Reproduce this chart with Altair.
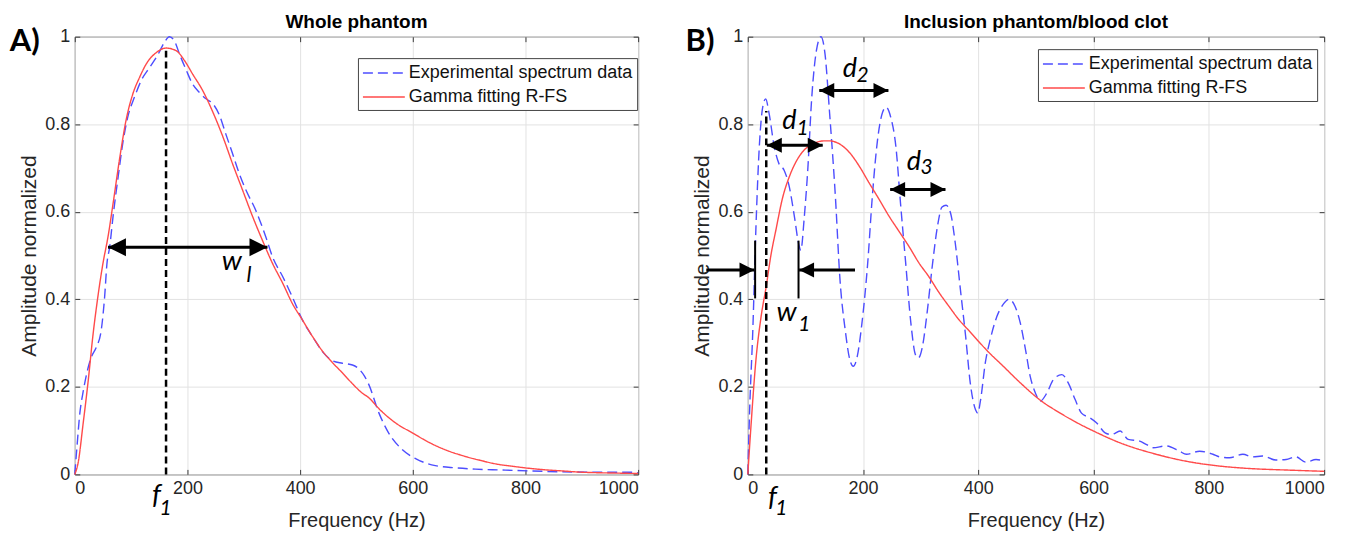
import altair as alt
import pandas as pd

SERIES = ["Experimental spectrum data", "Gamma fitting R-FS"]
X_TICKS = [0, 200, 400, 600, 800, 1000]
Y_TICKS = [0, 0.2, 0.4, 0.6, 0.8, 1.0]

# ---------------- Panel A: Whole phantom ----------------
a_exp_hz = [0, 4, 9, 15, 22, 30, 38, 47, 53, 57, 62, 68, 77, 86, 94, 106, 118, 133, 148, 159,
            168, 177, 186, 198, 209, 221, 233, 245, 257, 268, 280, 292, 304, 321, 339, 351, 369,
            386, 404, 422, 440, 457, 475, 493, 505, 514, 522, 540, 557, 581, 605, 640, 676, 711,
            758, 805, 864, 923, 982, 1000]
a_exp_amp = [0, 0.065, 0.14, 0.19, 0.235, 0.27, 0.29, 0.33, 0.406, 0.48, 0.52, 0.59, 0.68, 0.763,
             0.816, 0.862, 0.9, 0.93, 0.96, 0.987, 1.0, 0.99, 0.96, 0.923, 0.892, 0.873, 0.858,
             0.847, 0.82, 0.778, 0.733, 0.687, 0.649, 0.604, 0.543, 0.497, 0.452, 0.406, 0.353,
             0.315, 0.28, 0.26, 0.254, 0.25, 0.24, 0.225, 0.205, 0.14, 0.095, 0.057, 0.036, 0.02,
             0.015, 0.012, 0.010, 0.008, 0.006, 0.005, 0.005, 0.004]
a_fit_hz = [0, 6, 15, 24, 32, 41, 50, 59, 68, 80, 91, 103, 115, 127, 145, 162, 180, 195, 209, 227,
            245, 263, 280, 298, 316, 333, 351, 369, 386, 404, 422, 440, 457, 475, 493, 510, 522,
            540, 569, 599, 629, 660, 688, 720, 747, 780, 806, 840, 865, 900, 924, 960, 1000]
a_fit_amp = [0, 0.027, 0.118, 0.216, 0.315, 0.406, 0.482, 0.543, 0.619, 0.725, 0.809, 0.869, 0.907,
             0.938, 0.964, 0.974, 0.968, 0.945, 0.915, 0.877, 0.828, 0.771, 0.71, 0.649, 0.588,
             0.535, 0.482, 0.437, 0.391, 0.353, 0.315, 0.281, 0.256, 0.232, 0.207, 0.186, 0.175,
             0.15, 0.118, 0.095, 0.073, 0.055, 0.043, 0.032, 0.024, 0.018, 0.014, 0.010, 0.008,
             0.005, 0.004, 0.003, 0.002]

# annotations A
a_f1 = [{"x": 162, "y": 0, "y2": 0.975}]
a_shafts = [{"x": 59, "x2": 342, "y": 0.519}]
a_heads = [{"x": 59, "y": 0.519, "dir": "L"}, {"x": 342, "y": 0.519, "dir": "R"}]
a_texts = [
    {"x": 279, "y": 0.486, "t": "w", "s": 28},
    {"x": 309, "y": 0.455, "t": "l", "s": 22},
    {"x": 145, "y": -0.05, "t": "f", "s": 28},
    {"x": 161, "y": -0.08, "t": "1", "s": 21},
]
a_tag = [{"x": -89, "y": 0.9875, "t": "A)"}]

# ---------------- Panel B: Inclusion phantom/blood clot ----------------
b_exp_hz = [0, 3, 8.7, 14, 20, 26, 31, 37, 46, 54, 63, 72, 81, 88, 92, 98, 104, 111, 119, 127,
            134, 142, 152, 160, 169, 177, 183, 190, 198, 208, 216, 225, 234, 240, 248, 257, 265,
            274, 283, 291, 296, 303, 311, 320, 329, 337, 344, 352, 360, 369, 378, 386, 395, 399,
            404, 412, 421, 432, 444, 453, 464, 473, 482, 490, 499, 507, 519, 530, 545, 556, 568,
            579, 594, 605, 620, 631, 646, 660, 680, 692, 703, 726, 749, 761, 784, 807, 819, 836,
            859, 876, 893, 916, 934, 951, 968, 986, 1000]
b_exp_amp = [0, 0.14, 0.33, 0.56, 0.75, 0.84, 0.858, 0.824, 0.748, 0.71, 0.695, 0.657, 0.588, 0.528,
             0.512, 0.588, 0.695, 0.862, 0.968, 1.0, 0.96, 0.824, 0.634, 0.444, 0.33, 0.262, 0.247,
             0.27, 0.345, 0.482, 0.634, 0.763, 0.828, 0.839, 0.816, 0.748, 0.619, 0.482, 0.345,
             0.273, 0.266, 0.292, 0.368, 0.475, 0.566, 0.611, 0.615, 0.596, 0.528, 0.421, 0.315,
             0.209, 0.148, 0.14, 0.171, 0.254, 0.31, 0.36, 0.39, 0.40, 0.383, 0.345, 0.284, 0.224,
             0.186, 0.167, 0.186, 0.216, 0.228, 0.209, 0.171, 0.14, 0.129, 0.118, 0.095, 0.091,
             0.099, 0.08, 0.076, 0.068, 0.061, 0.065, 0.053, 0.046, 0.053, 0.046, 0.04, 0.038,
             0.046, 0.04, 0.042, 0.033, 0.034, 0.04, 0.028, 0.034, 0.03]
b_fit_hz = [0, 6, 14, 23, 32, 40, 49, 60, 72, 84, 95, 107, 118, 133, 141, 159, 176, 193, 210, 228,
            245, 262, 280, 297, 314, 332, 349, 366, 384, 401, 418, 441, 473, 507, 542, 577, 600,
            646, 703, 761, 819, 876, 934, 1000]
b_fit_amp = [0, 0.12, 0.26, 0.36, 0.43, 0.50, 0.56, 0.63, 0.68, 0.715, 0.737, 0.751, 0.758, 0.762,
             0.762, 0.755, 0.736, 0.705, 0.667, 0.628, 0.59, 0.556, 0.52, 0.483, 0.452, 0.415,
             0.384, 0.354, 0.328, 0.303, 0.279, 0.25, 0.209, 0.17, 0.14, 0.114, 0.099, 0.072,
             0.048, 0.03, 0.019, 0.013, 0.01, 0.007]

# annotations B
b_f1 = [{"x": 32, "y": 0, "y2": 0.83}]
b_bars = [{"x": 12.7, "y": 0.402, "y2": 0.534}, {"x": 88, "y": 0.402, "y2": 0.534}]
b_shafts = [
    {"x": 33, "x2": 130, "y": 0.752},
    {"x": 124, "x2": 244, "y": 0.877},
    {"x": 247, "x2": 343, "y": 0.651},
    {"x": -72, "x2": 11.5, "y": 0.467},
    {"x": 89, "x2": 186, "y": 0.467},
]
b_heads = [
    {"x": 33, "y": 0.752, "dir": "L"}, {"x": 130, "y": 0.752, "dir": "R"},
    {"x": 124, "y": 0.877, "dir": "L"}, {"x": 244, "y": 0.877, "dir": "R"},
    {"x": 247, "y": 0.651, "dir": "L"}, {"x": 343, "y": 0.651, "dir": "R"},
    {"x": 11.5, "y": 0.467, "dir": "R"}, {"x": 89, "y": 0.467, "dir": "L"},
]
b_texts = [
    {"x": 72, "y": 0.807, "t": "d", "s": 27}, {"x": 95, "y": 0.79, "t": "1", "s": 21},
    {"x": 177, "y": 0.926, "t": "d", "s": 27}, {"x": 199, "y": 0.911, "t": "2", "s": 21},
    {"x": 288, "y": 0.714, "t": "d", "s": 27}, {"x": 310, "y": 0.70, "t": "3", "s": 21},
    {"x": 67.5, "y": 0.368, "t": "w", "s": 28}, {"x": 98, "y": 0.342, "t": "1", "s": 21},
    {"x": 43, "y": -0.055, "t": "f", "s": 28}, {"x": 58, "y": -0.08, "t": "1", "s": 21},
]
b_tag = [{"x": -83, "y": 0.9875, "t": "B)"}]

BLUE = "#4d4dff"
RED = "#ff4a4a"
AXFONT = "Liberation Sans"
ANFONT = "Lato"
TICKC = "#3a3a3a"
PATH_R = "M0,0L-1,-0.5L-1,0.5Z"
PATH_L = "M0,0L1,-0.5L1,0.5Z"


def lines_df(eh, ea, fh, fa):
    rows = [{"hz": h, "amp": a, "series": SERIES[0]} for h, a in zip(eh, ea)]
    rows += [{"hz": h, "amp": a, "series": SERIES[1]} for h, a in zip(fh, fa)]
    return pd.DataFrame(rows)


def make_legend(legx, legy):
    return alt.Legend(title=None, orient="none", legendX=legx, legendY=legy,
                      symbolType="M-2.1,0L2.1,0", symbolSize=400,
                      symbolStrokeWidth=1.5, symbolOffset=11,
                      labelFont=AXFONT, labelFontSize=18, labelColor="#111",
                      labelOffset=14, fillColor="white", strokeColor="#444",
                      padding=4, rowPadding=4, labelLimit=400)


def panel(title, w, eh, ea, fh, fa, f1, shafts, heads, texts, tag, bars, head_size, legx, legy):
    xs = alt.Scale(domain=[0, 1000], nice=False)
    ys = alt.Scale(domain=[0, 1], nice=False)
    # main axes: pulled 5px inside the frame so their ticks point inward
    xax = alt.Axis(values=X_TICKS, format="d", title="Frequency (Hz)", offset=-5,
                   ticks=True, tickSize=5, tickColor=TICKC,
                   labelPadding=5, titlePadding=13, titleFontSize=20)
    yax = alt.Axis(values=Y_TICKS, format="~g", title="Amplitude normalized", offset=-5,
                   ticks=True, tickSize=5, tickColor=TICKC,
                   labelPadding=5, titlePadding=5, titleFontSize=21)
    # mirrored tick-only axes on top and right
    xtop = alt.Axis(values=X_TICKS, orient="top", offset=-5, ticks=True, tickSize=5,
                    tickColor=TICKC, labels=False, title=None, grid=False)
    yright = alt.Axis(values=Y_TICKS, orient="right", offset=-5, ticks=True, tickSize=5,
                      tickColor=TICKC, labels=False, title=None, grid=False)
    base = alt.Chart(lines_df(eh, ea, fh, fa))
    lines = base.mark_line(strokeWidth=1.4, interpolate="monotone").encode(
        x=alt.X("hz:Q", scale=xs, axis=xax),
        y=alt.Y("amp:Q", scale=ys, axis=yax),
        color=alt.Color("series:N", scale=alt.Scale(domain=SERIES, range=[BLUE, RED]),
                        legend=make_legend(legx, legy)),
        strokeDash=alt.StrokeDash("series:N", scale=alt.Scale(domain=SERIES, range=[[10, 5], [1, 0]]),
                                  legend=make_legend(legx, legy)),
    )
    layers = [lines]
    layers.append(alt.Chart(pd.DataFrame(f1)).mark_rule(color="black", strokeWidth=2.5,
                                                         strokeDash=[7, 4]).encode(
        x=alt.X("x:Q", scale=xs, axis=xtop), y=alt.Y("y:Q", scale=ys, axis=yright), y2="y2:Q"))
    if bars:
        layers.append(alt.Chart(pd.DataFrame(bars)).mark_rule(color="black", strokeWidth=2).encode(
            x=alt.X("x:Q", scale=xs, axis=None), y=alt.Y("y:Q", scale=ys, axis=None), y2="y2:Q"))
    layers.append(alt.Chart(pd.DataFrame(shafts)).mark_rule(color="black", strokeWidth=3).encode(
        x=alt.X("x:Q", scale=xs, axis=None), x2="x2:Q", y=alt.Y("y:Q", scale=ys, axis=None)))
    layers.append(alt.Chart(pd.DataFrame(heads)).mark_point(filled=True, opacity=1, color="black",
                                                             strokeWidth=0).encode(
        x=alt.X("x:Q", scale=xs, axis=None), y=alt.Y("y:Q", scale=ys, axis=None),
        shape=alt.Shape("dir:N", scale=alt.Scale(domain=["L", "R"], range=[PATH_L, PATH_R]), legend=None),
        size=alt.value(head_size)))
    layers.append(alt.Chart(pd.DataFrame(texts)).mark_text(font=ANFONT, fontStyle="italic",
                                                            color="black", align="center",
                                                            baseline="middle").encode(
        x=alt.X("x:Q", scale=xs, axis=None), y=alt.Y("y:Q", scale=ys, axis=None), text="t:N",
        size=alt.Size("s:Q", scale=None, legend=None)))
    layers.append(alt.Chart(pd.DataFrame(tag)).mark_text(font=ANFONT, fontWeight="bold", fontSize=31,
                                                          color="black", align="center",
                                                          baseline="middle").encode(
        x=alt.X("x:Q", scale=xs, axis=None), y=alt.Y("y:Q", scale=ys, axis=None), text="t:N"))
    return alt.layer(*layers).properties(
        width=w, height=439,
        title=alt.TitleParams(title, font=AXFONT, fontSize=19, fontWeight="bold", color="black",
                              offset=-6, frame="group"),
    ).resolve_scale(size="independent").resolve_axis(x="independent", y="independent")


left = panel("Whole phantom", 565, a_exp_hz, a_exp_amp, a_fit_hz, a_fit_amp, a_f1, a_shafts,
             a_heads, a_texts, a_tag, None, 1296, 284, 21.5)
right = panel("Inclusion phantom/blood clot", 578, b_exp_hz, b_exp_amp, b_fit_hz, b_fit_amp, b_f1,
              b_shafts, b_heads, b_texts, b_tag, b_bars, 900, 291, 12.5)

chart = alt.hconcat(left, right, spacing=110, bounds="flush").resolve_scale(
    x="independent", y="independent", color="independent", strokeDash="independent",
    shape="independent"
).resolve_legend(color="independent", strokeDash="independent").properties(
    autosize=alt.AutoSizeParams(type="pad"),
    padding={"left": 9, "top": 11, "right": 37, "bottom": 5},
).configure_view(stroke="#4a4a4a", strokeWidth=1).configure_axis(
    labelFont=AXFONT, labelFontSize=18, labelColor="#262626", titleFont=AXFONT, titleFontSize=19,
    titleFontWeight="normal", titleColor="#262626", gridColor="#e2e2e2", domain=False,
)

chart.save("out.html", embed_options={"renderer": "svg", "actions": False})
